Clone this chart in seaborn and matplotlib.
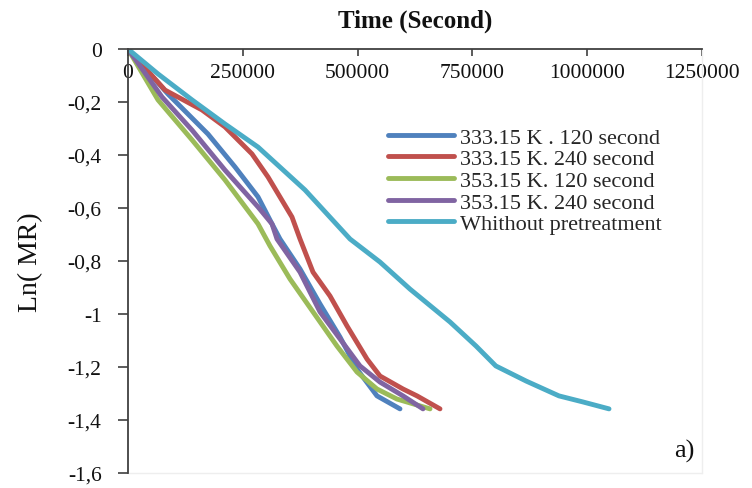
import matplotlib
matplotlib.use("Agg")
import matplotlib.pyplot as plt
import seaborn as sns
import pandas as pd

# Drying kinetics: Ln(MR) versus drying time for each pretreatment
series_names = [
    "333.15 K . 120 second",
    "333.15 K. 240 second",
    "353.15 K. 120 second",
    "353.15 K. 240 second",
    "Whithout pretreatment",
]
colors = ["#4F81BD", "#C0504D", "#9BBB59", "#8064A2", "#4BACC6"]

t_333_120 = [0, 87100, 174200, 233000, 283100, 313600, 331000, 374600, 418100,
             461700, 498700, 542200, 592300]
y_333_120 = [0, -0.170, -0.321, -0.445, -0.558, -0.660, -0.717, -0.830, -0.962,
             -1.087, -1.208, -1.309, -1.358]

t_333_240 = [0, 80600, 161100, 211200, 270000, 304900, 357100, 374600, 402900,
             439900, 476900, 520500, 548800, 598900, 629400, 679400]
y_333_240 = [0, -0.155, -0.230, -0.294, -0.396, -0.483, -0.634, -0.717, -0.842,
             -0.932, -1.045, -1.170, -1.234, -1.283, -1.309, -1.358]

t_353_120 = [0, 65300, 139400, 211200, 283100, 309200, 352800, 402900, 455100,
             498700, 542200, 585800, 657700]
y_353_120 = [0, -0.192, -0.343, -0.494, -0.660, -0.743, -0.868, -0.992, -1.121,
             -1.219, -1.283, -1.321, -1.358]

t_353_240 = [0, 74000, 139400, 211200, 283100, 313600, 324500, 374600, 418100,
             461700, 505200, 548800, 598900, 642400]
y_353_240 = [0, -0.181, -0.306, -0.457, -0.596, -0.660, -0.717, -0.842, -0.992,
             -1.094, -1.196, -1.257, -1.309, -1.358]

t_untreated = [0, 65300, 139400, 211200, 283100, 385500, 483500, 548800, 614100,
               701200, 758000, 801000, 867000, 938500, 991000, 1047500]
y_untreated = [0, -0.094, -0.192, -0.283, -0.370, -0.532, -0.717, -0.804, -0.906,
               -1.030, -1.121, -1.196, -1.253, -1.309, -1.332, -1.358]

x_ticks = [0, 250000, 500000, 750000, 1000000, 1250000]
y_ticks = [0, -0.2, -0.4, -0.6, -0.8, -1.0, -1.2, -1.4, -1.6]
y_tick_labels = ["0", "-0,2", "-0,4", "-0,6", "-0,8", "-1", "-1,2", "-1,4", "-1,6"]

frames = []
for name, t, y in zip(series_names,
                      [t_333_120, t_333_240, t_353_120, t_353_240, t_untreated],
                      [y_333_120, y_333_240, y_353_120, y_353_240, y_untreated]):
    frames.append(pd.DataFrame({"time": t, "lnmr": y, "series": name}))
df = pd.concat(frames, ignore_index=True)

sns.set_theme(style="white")
plt.rcParams["font.family"] = ["Liberation Serif", "DejaVu Serif"]

fig = plt.figure(figsize=(7.52, 4.89), dpi=100)
ax = fig.add_axes([128 / 752, 1 - 474 / 489, 574 / 752, 424 / 489])

sns.lineplot(data=df, x="time", y="lnmr", hue="series", hue_order=series_names,
             palette=colors, sort=False, estimator=None, linewidth=3.5,
             ax=ax, legend=False)

ax.set_xlim(0, 1250000)
ax.set_ylim(-1.6, 0)

# x axis drawn along the top edge (Ln(MR) = 0), labels under the line
ax.spines["bottom"].set_position(("axes", 1.0))
ax.spines["top"].set_visible(False)
for side in ["bottom", "left"]:
    ax.spines[side].set_color("#404040")
    ax.spines[side].set_linewidth(1.3)
ax.spines["right"].set_color("#eeeeee")
ax.spines["right"].set_linewidth(1.0)
ax.plot([0, 1], [0, 0], transform=ax.transAxes, color="#eeeeee", linewidth=1.0,
        clip_on=False)

ax.set_xticks(x_ticks)
ax.set_xticklabels([str(v) for v in x_ticks])
ax.set_yticks(y_ticks)
ax.set_yticklabels(y_tick_labels)
ax.tick_params(axis="x", which="major", bottom=True, direction="out", length=5,
               width=1.2, color="#404040", labelsize=15.5, pad=5, labelcolor="#111111")
ax.tick_params(axis="y", which="major", left=True, direction="out", length=7,
               width=1.2, color="#404040", labelsize=15.5, pad=12, labelcolor="#111111")

ax.set_xlabel("Time (Second)", fontsize=18, fontweight="bold", color="#111111")
ax.xaxis.set_label_position("top")
ax.xaxis.labelpad = 16

ax.set_ylabel("Ln( MR)", fontsize=20, color="#111111")
ax.yaxis.label.set_va("center")
ax.yaxis.set_label_coords(-0.17, 0.5)

handles = [plt.Line2D([], [], color=c, linewidth=3.5) for c in colors]
ax.legend(handles, series_names, loc="upper left", bbox_to_anchor=(0.453, 0.816),
          frameon=False, fontsize=16, handlelength=2.95, handletextpad=0.3,
          labelspacing=0.05, borderpad=0, borderaxespad=0)

ax.text(0.969, 0.052, "a)", transform=ax.transAxes, ha="center", va="center",
        fontsize=19, color="#111111")

fig.savefig("out.png", dpi=100)
